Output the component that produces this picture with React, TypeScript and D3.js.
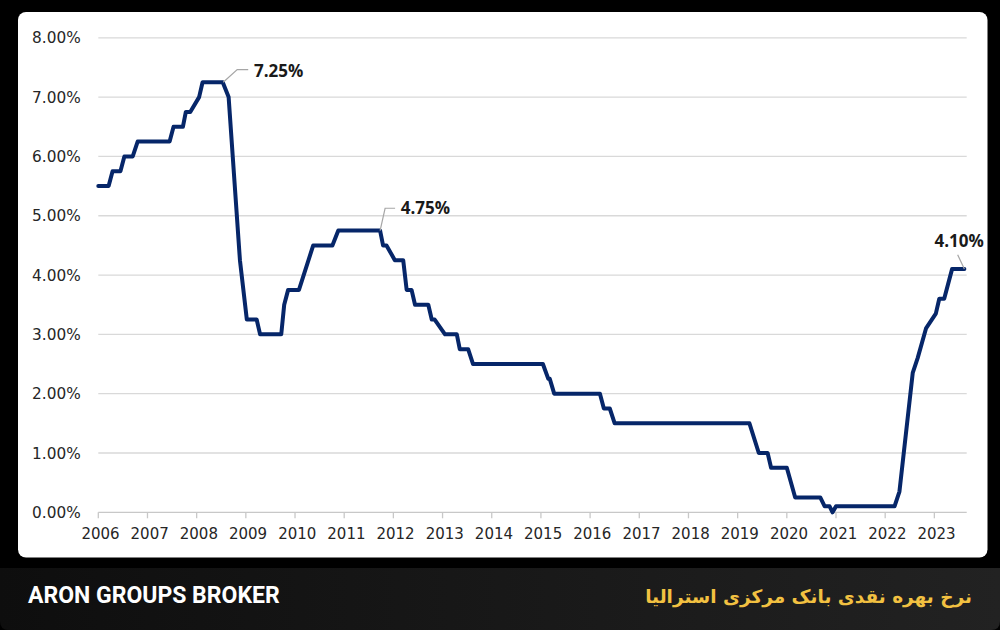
import React from "react";
import * as d3 from "d3";

// Decimal-year vertices of the RBA cash rate line (%)
const years: number[] = [
  2006.0, 2006.21, 2006.29, 2006.45, 2006.53, 2006.7, 2006.8, 2007.45, 2007.53, 2007.72,
  2007.78, 2007.87, 2008.05, 2008.12, 2008.53, 2008.65, 2008.88, 2009.02, 2009.22, 2009.29,
  2009.72, 2009.78, 2009.86, 2010.08, 2010.37, 2010.76, 2010.88, 2011.73, 2011.79, 2011.86,
  2012.03, 2012.2, 2012.27, 2012.37, 2012.44, 2012.71, 2012.78, 2012.84, 2013.05, 2013.29,
  2013.35, 2013.52, 2013.62, 2015.04, 2015.15, 2015.18, 2015.27, 2016.2, 2016.28, 2016.4,
  2016.5, 2019.24, 2019.43, 2019.61, 2019.68, 2020.0, 2020.17, 2020.68, 2020.77, 2020.87,
  2020.93, 2021.0, 2022.19, 2022.29, 2022.56, 2022.66, 2022.83, 2023.03, 2023.1, 2023.2,
  2023.36, 2023.61,
];
const rates: number[] = [
  5.5, 5.5, 5.75, 5.75, 6.0, 6.0, 6.25, 6.25, 6.5, 6.5,
  6.75, 6.75, 7.0, 7.25, 7.25, 7.0, 4.25, 3.25, 3.25, 3.0,
  3.0, 3.5, 3.75, 3.75, 4.5, 4.5, 4.75, 4.75, 4.5, 4.5,
  4.25, 4.25, 3.75, 3.75, 3.5, 3.5, 3.25, 3.25, 3.0, 3.0,
  2.75, 2.75, 2.5, 2.5, 2.25, 2.25, 2.0, 2.0, 1.75, 1.75,
  1.5, 1.5, 1.0, 1.0, 0.75, 0.75, 0.25, 0.25, 0.1, 0.1,
  0.0, 0.1, 0.1, 0.35, 2.35, 2.6, 3.1, 3.35, 3.6, 3.6,
  4.1, 4.1,
];

const yearTicks: number[] = d3.range(2006, 2024);
const yTicks: number[] = [0, 1, 2, 3, 4, 5, 6, 7, 8];

// Annotations: [year, value, label]
const annotYears: number[] = [2008.54, 2011.73, 2023.61];
const annotValues: number[] = [7.25, 4.75, 4.1];
const annotLabels: string[] = ["7.25%", "4.75%", "4.10%"];

const brandText = "ARON GROUPS BROKER";
const titleText = "نرخ بهره نقدی بانک مرکزی استرالیا";

export default function App() {
  const W = 1000;
  const H = 630;
  const x0 = 98.3;
  const x1 = 966.7;
  const pxPerYear = 49.18;
  const x = d3
    .scaleLinear()
    .domain([2006, 2006 + (x1 - x0) / pxPerYear])
    .range([x0, x1]);
  const y = d3.scaleLinear().domain([0, 8]).range([512.3, 37.8]);

  const pts: [number, number][] = years.map((t, i) => [t, rates[i]]);
  const line = d3
    .line<[number, number]>()
    .x((d) => x(d[0]))
    .y((d) => y(d[1]));

  const tickFont = "'DejaVu Sans', sans-serif";

  // leader offsets relative to anchor point (pixel layout of the labels)
  const leaders = [
    { path: (ax: number, ay: number) => `M${ax},${ay}L${ax + 14},${ay - 12.7}L${ax + 25},${ay - 12.7}`, tx: 30.7, ty: -5.7, anchor: "start" },
    { path: (ax: number, ay: number) => `M${ax},${ay}L${ax + 5},${ay - 22.3}L${ax + 15},${ay - 22.3}`, tx: 20.7, ty: -16.6, anchor: "start" },
    { path: (ax: number, ay: number) => `M${ax},${ay}L${ax - 6.7},${ay - 14.3}`, tx: -5.2, ty: -22.3, anchor: "middle" },
  ];

  return (
    <svg
      width={W}
      height={H}
      style={{ position: "absolute", left: 0, top: 0, display: "block" }}
      xmlns="http://www.w3.org/2000/svg"
    >
      <defs>
        <linearGradient id="footerGrad" x1="0" x2="1" y1="0" y2="0">
          <stop offset="0%" stopColor="#0e0e0e" />
          <stop offset="100%" stopColor="#222222" />
        </linearGradient>
      </defs>
      <rect x={0} y={0} width={W} height={H} fill="#000" />
      <rect x={18} y={12} width={969.5} height={545.5} rx={8} ry={8} fill="#fff" />
      <path
        d={`M0,568H${W}V${H - 9}Q${W},${H} ${W - 9},${H}H9Q0,${H} 0,${H - 9}Z`}
        fill="url(#footerGrad)"
      />

      {/* gridlines */}
      {yTicks.map((v) => (
        <line
          key={"g" + v}
          x1={x0}
          x2={x1}
          y1={y(v)}
          y2={y(v)}
          stroke={v === 0 ? "#c8c8c8" : "#d9d9d9"}
          strokeWidth={1.3}
        />
      ))}
      {/* x ticks */}
      {yearTicks.map((t) => (
        <line key={"t" + t} x1={x(t)} x2={x(t)} y1={y(0)} y2={y(0) + 6} stroke="#c8c8c8" strokeWidth={1.3} />
      ))}
      {/* y labels */}
      {yTicks.map((v) => (
        <text
          key={"yl" + v}
          x={80.7}
          y={y(v) + 5.6}
          textAnchor="end"
          fontFamily={tickFont}
          fontSize={15.3}
          fill="#262626"
        >
          {d3.format(".2f")(v) + "%"}
        </text>
      ))}
      {/* x labels */}
      {yearTicks.map((t) => (
        <text
          key={"xl" + t}
          x={x(t) + 2.2}
          y={539.3}
          textAnchor="middle"
          fontFamily={tickFont}
          fontSize={15}
          fill="#262626"
        >
          {t}
        </text>
      ))}

      <path
        d={line(pts) || ""}
        fill="none"
        stroke="#062669"
        strokeWidth={4}
        strokeLinejoin="round"
        strokeLinecap="round"
      />

      {annotYears.map((t, i) => {
        const ax = x(t);
        const ay = y(annotValues[i]);
        const L = leaders[i];
        return (
          <g key={"a" + i}>
            <path d={L.path(ax, ay)} fill="none" stroke="#a6a6a6" strokeWidth={1.2} />
            <text
              x={ax + L.tx}
              y={ay + L.ty}
              textAnchor={L.anchor as any}
              fontFamily="'Open Sans', sans-serif"
              fontWeight={700}
              fontSize={17}
              fill="#1a1a1a"
            >
              {annotLabels[i]}
            </text>
          </g>
        );
      })}

      <text x={28} y={603} fontFamily="Roboto, sans-serif" fontWeight={700} fontSize={23} fill="#ffffff">
        {brandText}
      </text>
      <text
        x={972}
        y={603}
        textAnchor="end"
        fontFamily="'DejaVu Sans', sans-serif"
        fontWeight={700}
        fontSize={18.5}
        fill="#f2c141"
      >
        {titleText}
      </text>
    </svg>
  );
}
